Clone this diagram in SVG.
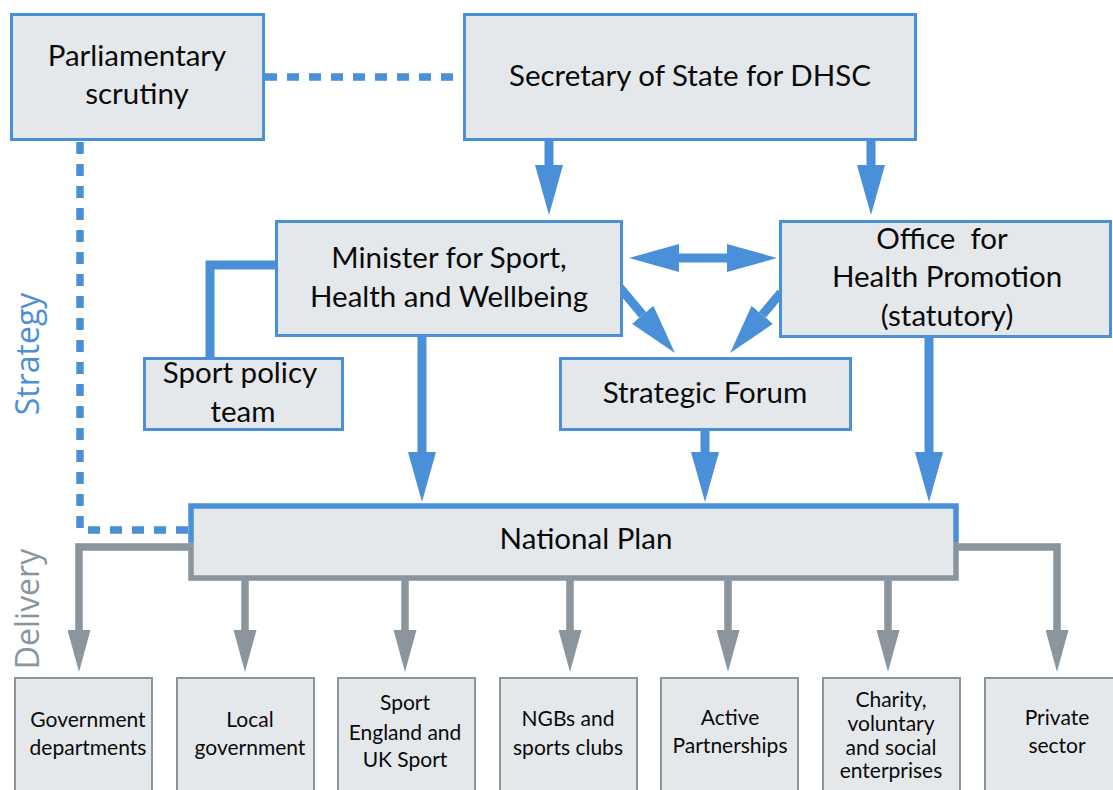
<svg xmlns="http://www.w3.org/2000/svg" width="1113" height="790" viewBox="0 0 1113 790">
<defs>
<style>
.bx{fill:#e5e8eb;stroke:#4a90d9;stroke-width:3}
.gb{fill:#e5e8eb;stroke:#8a959e;stroke-width:2}
.t{font-family:Lato,"Liberation Sans",sans-serif;font-size:29.5px;fill:#0a0a0a;text-anchor:middle}
.s{font-family:Lato,"Liberation Sans",sans-serif;font-size:21px;fill:#0a0a0a;text-anchor:middle}
.v{font-family:"Open Sans","Liberation Sans",sans-serif;font-size:32px;text-anchor:middle}
.bl{stroke:#4a90d9;stroke-width:9;fill:none}
.gl{stroke:#8a959e;stroke-width:7.5;fill:none}
.dash{stroke:#4a90d9;stroke-width:7.5;stroke-dasharray:12 10;fill:none}
</style>
<marker id="ab" markerUnits="userSpaceOnUse" markerWidth="50" markerHeight="28" viewBox="0 0 50 28" refX="0" refY="14" orient="auto-start-reverse"><path d="M0,0L50,14L0,28Z" fill="#4a90d9"/></marker>
<marker id="ag" markerUnits="userSpaceOnUse" markerWidth="42" markerHeight="23" viewBox="0 0 42 23" refX="0" refY="11.5" orient="auto"><path d="M0,0L42,11.5L0,23Z" fill="#8a959e"/></marker>
</defs>
<text class="v" fill="#4a90d9" transform="translate(39,354) rotate(-90)">Strategy</text>
<text class="v" fill="#8a959e" transform="translate(39,609) rotate(-90)">Delivery</text>
<g id="connectors">
<path class="dash" d="M265,77H462"/>
<path class="dash" d="M80,142V530H189"/>
<path class="bl" d="M549,140V165" marker-end="url(#ab)"/>
<path class="bl" d="M871,140V165" marker-end="url(#ab)"/>
<path class="bl" d="M277,265H210V357"/>
<path class="bl" d="M679,258H727" marker-start="url(#ab)" marker-end="url(#ab)"/>
<path class="bl" d="M619,286.7L642.7,314.8" marker-end="url(#ab)"/>
<path class="bl" d="M781,292.6L762.3,314.8" marker-end="url(#ab)"/>
<path class="bl" d="M422,337V452" marker-end="url(#ab)"/>
<path class="bl" d="M705,431V452" marker-end="url(#ab)"/>
<path class="bl" d="M929,338V452" marker-end="url(#ab)"/>
<path class="gl" d="M190,547H79V630" marker-end="url(#ag)"/>
<path class="gl" d="M957,547H1057V630" marker-end="url(#ag)"/>
<path class="gl" d="M245,580V630" marker-end="url(#ag)"/>
<path class="gl" d="M405,580V630" marker-end="url(#ag)"/>
<path class="gl" d="M570,580V630" marker-end="url(#ag)"/>
<path class="gl" d="M728,580V630" marker-end="url(#ag)"/>
<path class="gl" d="M888,580V630" marker-end="url(#ag)"/>
</g>
<g id="parliamentary">
<rect class="bx" x="11.5" y="14.5" width="252" height="125"/>
<text class="t" x="137" y="66">Parliamentary</text>
<text class="t" x="137" y="104">scrutiny</text>
</g>
<g id="secretary">
<rect class="bx" x="464.5" y="14.5" width="451" height="125"/>
<text class="t" x="690" y="86">Secretary of State for DHSC</text>
</g>
<g id="minister">
<rect class="bx" x="276.5" y="221.5" width="345" height="114"/>
<text class="t" x="449" y="268">Minister for Sport,</text>
<text class="t" x="449" y="307">Health and Wellbeing</text>
</g>
<g id="office">
<rect class="bx" x="780.5" y="221.5" width="330" height="115"/>
<text class="t" x="942" y="249" style="white-space:pre">Office  for</text>
<text class="t" x="947" y="287">Health Promotion</text>
<text class="t" x="947" y="326">(statutory)</text>
</g>
<g id="sport-policy">
<rect class="bx" x="144.5" y="358.5" width="198" height="71"/>
<text class="t" x="240" y="383">Sport policy</text>
<text class="t" x="243" y="422">team</text>
</g>
<g id="strategic-forum">
<rect class="bx" x="560.5" y="358.5" width="290" height="71"/>
<text class="t" x="705" y="403">Strategic Forum</text>
</g>
<g id="national-plan">
<rect x="191" y="506" width="765" height="72" fill="#e5e8eb"/>
<path d="M191,542V506H956V542" fill="none" stroke="#4a90d9" stroke-width="5.5"/>
<path d="M191,542V578H956V542" fill="none" stroke="#8a959e" stroke-width="5.5"/>
<text class="t" x="586" y="549">National Plan</text>
</g>
<g id="gov-departments">
<rect class="gb" x="15" y="678" width="137" height="130"/>
<text class="s" x="88" y="727">Government</text>
<text class="s" x="88" y="755">departments</text>
</g>
<g id="local-government">
<rect class="gb" x="177" y="678" width="137" height="130"/>
<text class="s" x="250" y="727">Local</text>
<text class="s" x="250" y="755">government</text>
</g>
<g id="sport-england">
<rect class="gb" x="338" y="678" width="137" height="130"/>
<text class="s" x="405" y="710">Sport</text>
<text class="s" x="405" y="740">England and</text>
<text class="s" x="405" y="767">UK Sport</text>
</g>
<g id="ngbs">
<rect class="gb" x="500" y="678" width="137" height="130"/>
<text class="s" x="568" y="726">NGBs and</text>
<text class="s" x="568" y="755">sports clubs</text>
</g>
<g id="active-partnerships">
<rect class="gb" x="661" y="678" width="137" height="130"/>
<text class="s" x="730" y="725">Active</text>
<text class="s" x="730" y="753">Partnerships</text>
</g>
<g id="charity">
<rect class="gb" x="823" y="678" width="137" height="130"/>
<text class="s" x="891" y="707">Charity,</text>
<text class="s" x="891" y="731">voluntary</text>
<text class="s" x="891" y="755">and social</text>
<text class="s" x="891" y="778">enterprises</text>
</g>
<g id="private-sector">
<rect class="gb" x="985" y="678" width="137" height="130"/>
<text class="s" x="1057" y="725">Private</text>
<text class="s" x="1057" y="753">sector</text>
</g>
</svg>
